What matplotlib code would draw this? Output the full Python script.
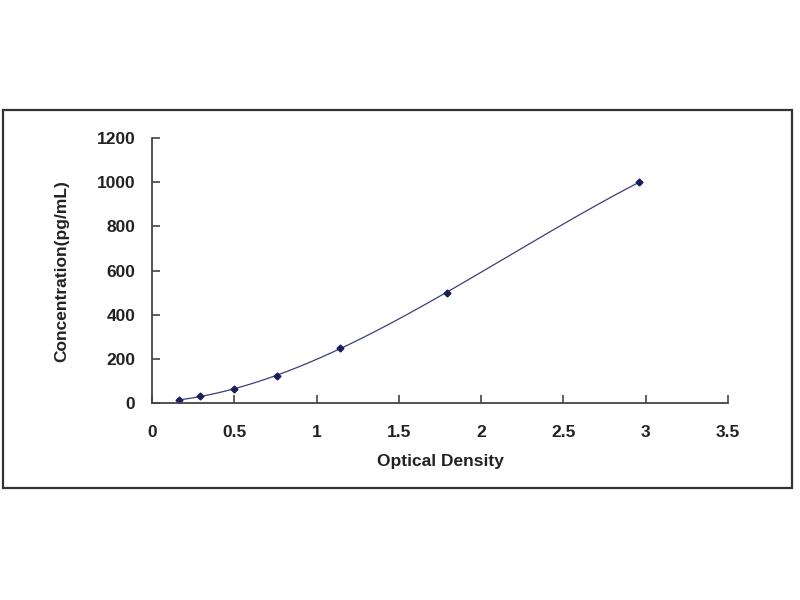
"""Standard curve: concentration vs optical density."""

import matplotlib

matplotlib.use("Agg")

import matplotlib.pyplot as plt
import numpy as np
from matplotlib.patches import Rectangle

od = [0.164, 0.29, 0.50, 0.76, 1.14, 1.79, 2.96]
conc = [15.6, 31.2, 62.5, 125, 250, 500, 1000]
x_ticks = [0, 0.5, 1, 1.5, 2, 2.5, 3, 3.5]
x_tick_labels = ["0", "0.5", "1", "1.5", "2", "2.5", "3", "3.5"]
y_ticks = [0, 200, 400, 600, 800, 1000, 1200]

plt.rcParams["font.family"] = ["Liberation Sans", "DejaVu Sans"]

fig = plt.figure(figsize=(8, 6), dpi=100)
fig.patch.set_facecolor("white")

# outer frame around the chart
fig.add_artist(Rectangle((0.004, 0.187), 0.986, 0.630, transform=fig.transFigure,
                         fill=False, edgecolor="#333333", linewidth=1.6))

ax = fig.add_axes([0.19, 0.328, 0.72, 0.442])

# polynomial trendline fitted to the standards
coef = np.polyfit(od, conc, 3)
xs = np.linspace(min(od), max(od), 200)
ax.plot(xs, np.polyval(coef, xs), color="#3a3f7a", linewidth=0.9)
ax.plot(od, conc, linestyle="none", marker="D", markersize=3.5, color="#1a1f5c")

ax.set_xlim(0, 3.5)
ax.set_ylim(0, 1200)
ax.set_xticks(x_ticks)
ax.set_xticklabels(x_tick_labels)
ax.set_yticks(y_ticks)

for side in ("top", "right"):
    ax.spines[side].set_visible(False)
for side in ("left", "bottom"):
    ax.spines[side].set_color("#444444")
    ax.spines[side].set_linewidth(1.3)

ax.tick_params(direction="in", length=6, width=1.2, color="#444444",
               labelsize=12.5)
ax.tick_params(axis="x", pad=16)
ax.tick_params(axis="y", pad=12)
for lbl in ax.get_xticklabels() + ax.get_yticklabels():
    lbl.set_fontweight("bold")
    lbl.set_color("#222222")

ax.set_xlabel("Optical Density", fontsize=12.5, fontweight="bold", color="#222222", labelpad=10)
ax.set_ylabel("Concentration(pg/mL)", fontsize=12.5, fontweight="bold", color="#222222", labelpad=20)

fig.savefig("out.png", dpi=100)
plt.close(fig)
